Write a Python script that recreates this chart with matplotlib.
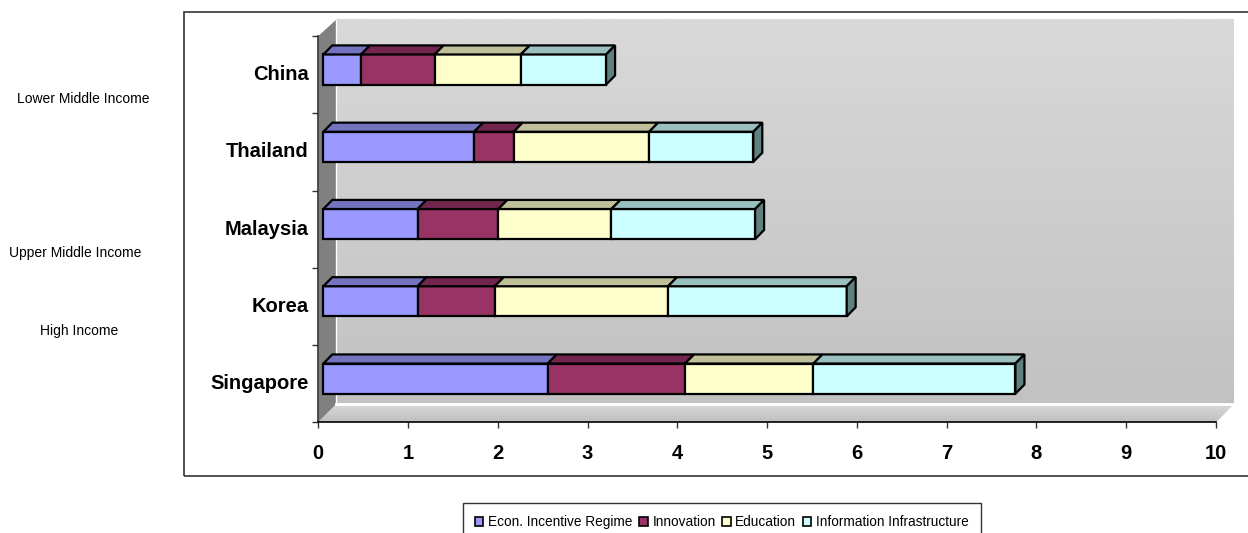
import matplotlib.pyplot as plt
from matplotlib.patches import Polygon, Rectangle, Patch
from matplotlib.colors import LinearSegmentedColormap
import numpy as np

# scores by country (stacked components)
countries = ['Singapore', 'Korea', 'Malaysia', 'Thailand', 'China']
econ = [2.50, 1.05, 1.05, 1.68, 0.42]
innovation = [1.53, 0.86, 0.90, 0.44, 0.82]
education = [1.43, 1.93, 1.26, 1.51, 0.96]
info_infra = [2.25, 1.99, 1.60, 1.16, 0.95]
series_names = ['Econ. Incentive Regime', 'Innovation', 'Education',
                'Information Infrastructure']
income_groups = ['Lower Middle Income', 'Upper Middle Income', 'High Income']

front_cols = ['#9999ff', '#993366', '#ffffcc', '#ccffff']
top_cols = ['#7373bf', '#73264d', '#bfbf99', '#99bfbf']
side_cols = ['#5c5c99', '#5c1f3d', '#99997a', '#608080']

font = 'Liberation Sans'

fig = plt.figure(figsize=(12.48, 5.33), dpi=100)
ax = fig.add_axes([318.3 / 1248, 1 - 422.3 / 533, 897.7 / 1248, 386.3 / 533])
ax.set_xlim(0, 10)
ax.set_ylim(-0.5, 4.5)

# depth of the 3d box in data units (~18px each way)
DX, DY = 0.20, 0.235
d0, d1 = 0.28, 0.78
bh = 0.39
top = 4.5 + DY * 0.9

# chart border
fig.patches.append(Rectangle((184 / 1248, 1 - 476 / 533), 1.0, (476 - 12) / 533,
                             transform=fig.transFigure, fill=False,
                             edgecolor='#333333', lw=1.2, zorder=0))

# back wall with vertical gradient
grad = np.linspace(0, 1, 256).reshape(-1, 1)
ax.imshow(grad, cmap=LinearSegmentedColormap.from_list('wall', ['#d9d9d9', '#c2c2c2']),
          aspect='auto', extent=(DX, 10 + DX, -0.5 + DY, top), origin='upper',
          zorder=0, clip_on=False)
# left wall
ax.add_patch(Polygon([(0, -0.5), (DX, -0.5 + DY), (DX, top), (0, 4.5)],
                     closed=True, facecolor='#808080', edgecolor='none',
                     clip_on=False, zorder=1))
# floor, lighter towards the back
floor = Polygon([(0, -0.5), (10, -0.5), (10 + DX, -0.5 + DY), (DX, -0.5 + DY)],
                closed=True, facecolor='none', edgecolor='none', clip_on=False)
ax.add_patch(floor)
fim = ax.imshow(grad, cmap=LinearSegmentedColormap.from_list('floor', ['#dadada', '#bfbfbf']),
                aspect='auto', extent=(0, 10 + DX, -0.5, -0.5 + DY), origin='upper',
                zorder=1)
fim.set_clip_box(fig.bbox)
fim.set_clip_path(floor)
ax.plot([DX, 10 + DX], [-0.5 + DY, -0.5 + DY], color='white', lw=2,
        clip_on=False, zorder=1.5)
ax.plot([DX, DX], [-0.5 + DY, top], color='white', lw=1,
        clip_on=False, zorder=1.5)

series = [econ, innovation, education, info_infra]
y = np.arange(len(countries))
left = np.zeros(len(countries))
fx, fy = d0 * DX, d0 * DY
bx, by = d1 * DX, d1 * DY
lw = 1.6
for k, vals in enumerate(series):
    vals = np.array(vals)
    ax.barh(y + fy, vals, height=bh, left=left + fx, color=front_cols[k],
            edgecolor='black', linewidth=lw, zorder=3, clip_on=False)
    for i in range(len(countries)):
        x0, x1 = left[i], left[i] + vals[i]
        yt = y[i] + bh / 2
        ax.add_patch(Polygon([(x0 + fx, yt + fy), (x1 + fx, yt + fy),
                              (x1 + bx, yt + by), (x0 + bx, yt + by)],
                             closed=True, facecolor=top_cols[k], edgecolor='black',
                             lw=lw, zorder=3, clip_on=False))
        if k == len(series) - 1:
            yb = y[i] - bh / 2
            ax.add_patch(Polygon([(x1 + fx, yb + fy), (x1 + bx, yb + by),
                                  (x1 + bx, yt + by), (x1 + fx, yt + fy)],
                                 closed=True, facecolor=side_cols[k],
                                 edgecolor='black', lw=lw, zorder=3, clip_on=False))
    left = left + vals

# axes
for s in ['top', 'right']:
    ax.spines[s].set_visible(False)
ax.spines['bottom'].set_linewidth(1.2)
ax.spines['left'].set_linewidth(1.2)
ax.spines['left'].set_color('#333333')
ax.set_xticks(range(0, 11))
ax.set_xticklabels([str(v) for v in range(0, 11)], family=font,
                   fontsize=14.5, fontweight='bold')
ax.set_yticks(np.arange(-0.5, 4.6, 1.0))
ax.set_yticklabels([])
ax.tick_params(axis='x', length=4.5, width=1, pad=11, colors='#333333', labelcolor='black')
ax.tick_params(axis='y', length=4.5, width=1, colors='#333333')
for i, name in enumerate(countries):
    ax.text(-0.11, y[i], name, ha='right', va='center', family=font,
            fontsize=14.5, fontweight='bold')

# income group notes on the left
fig.text(83 / 1248, 1 - 99 / 533, income_groups[0], ha='center', va='center',
         family=font, fontsize=10)
fig.text(75 / 1248, 1 - 253 / 533, income_groups[1], ha='center', va='center',
         family=font, fontsize=10)
fig.text(79 / 1248, 1 - 331 / 533, income_groups[2], ha='center', va='center',
         family=font, fontsize=10)

handles = [Patch(facecolor=c, edgecolor='black', lw=1.2) for c in front_cols]
leg = fig.legend(handles, series_names, loc='upper center',
                 bbox_to_anchor=(722 / 1248, 1 - 503 / 533), ncol=4,
                 frameon=True, fancybox=False, edgecolor='black',
                 handlelength=0.6, handleheight=0.6, handletextpad=0.35,
                 columnspacing=0.5, borderpad=0.9, borderaxespad=0,
                 prop={'family': font, 'size': 9.8})
leg.get_frame().set_linewidth(1.0)

fig.savefig('out.png', dpi=100)
